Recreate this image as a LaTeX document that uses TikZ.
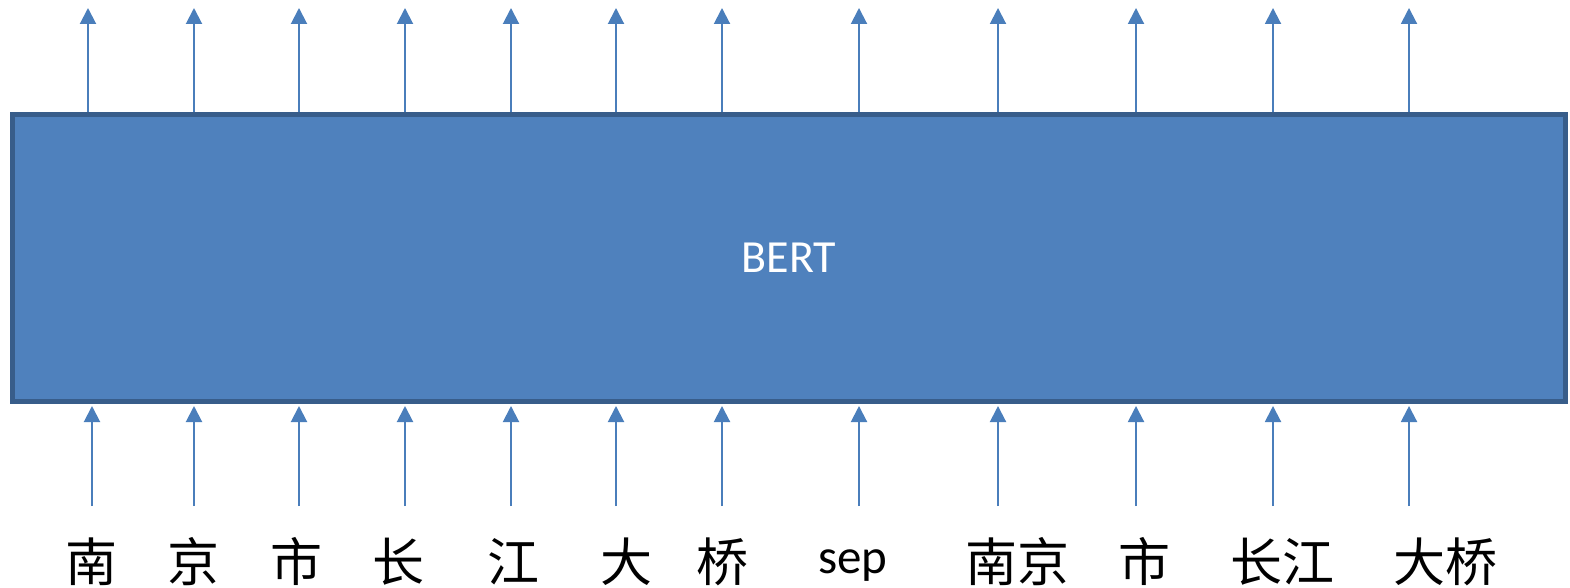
\documentclass[tikz,border=0pt]{standalone}
\usepackage{fontspec}
\setmainfont{Carlito}
\newfontfamily\cjk{Noto Sans CJK SC}
\usetikzlibrary{arrows.meta}
\definecolor{boxfill}{HTML}{4F81BD}
\definecolor{boxborder}{HTML}{385D8A}
\definecolor{arrowblue}{HTML}{4A7EBB}
\tikzset{
  bertbox/.style={draw=boxborder, line width=5pt, fill=boxfill, inner sep=0pt,
    minimum width=1553pt, minimum height=287pt, text=white,
    font=\fontsize{46}{48}\selectfont},
  flow/.style={draw=arrowblue, line width=2pt, -{Triangle[width=16pt,length=16pt]}},
  cjklabel/.style={anchor=base, inner sep=0pt, font=\cjk\fontsize{52}{54}\selectfont},
  latlabel/.style={anchor=base, inner sep=0pt, font=\fontsize{49}{51}\selectfont}
}
\begin{document}
\begin{tikzpicture}[x=1pt,y=-1pt]
\useasboundingbox (0,0) rectangle (1570,588);
\node[bertbox] (bert) at (789,258) {BERT};
% top arrows
\foreach \i/\x in {1/88,2/194,3/299,4/405,5/511,6/616,7/722,8/859,9/998,10/1136,11/1273,12/1409}{
  \coordinate (t\i) at (\x,8);
  \draw[flow] (t\i |- bert.north) -- (t\i);
}
% bottom arrows
\foreach \i/\x in {1/92,2/194,3/299,4/405,5/511,6/616,7/722,8/859,9/998,10/1136,11/1273,12/1409}{
  \coordinate (b\i) at (\x,506);
  \draw[flow, shorten >=2pt] (b\i) -- (b\i |- bert.south);
}
% labels
\node[cjklabel] (l1) at (91,581) {南};
\node[cjklabel] (l2) at (193,581) {京};
\node[cjklabel] (l3) at (296,581) {市};
\node[cjklabel] (l4) at (398,581) {长};
\node[cjklabel] (l5) at (513,581) {江};
\node[cjklabel] (l6) at (626,581) {大};
\node[cjklabel] (l7) at (722,581) {桥};
\node[latlabel] (l8) at (853,573) {sep};
\node[cjklabel] (l9) at (1017,581) {南京};
\node[cjklabel] (l10) at (1144,581) {市};
\node[cjklabel] (l11) at (1282,581) {长江};
\node[cjklabel] (l12) at (1445,581) {大桥};
\end{tikzpicture}
\end{document}
